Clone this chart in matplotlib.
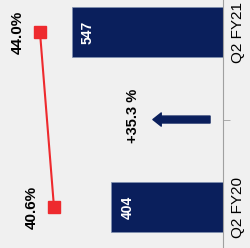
import matplotlib.pyplot as plt
import numpy as np

periods = ["Q2 FY20", "Q2 FY21"]
revenue = [404, 547]
margin = [40.6, 44.0]
growth_label = "+35.3 %"

navy = "#0a1f5c"
red = "#ee2a2e"
bg = "#f0f0f0"

plt.rcParams['font.family'] = ['Liberation Sans', 'DejaVu Sans']

fig = plt.figure(figsize=(2.51, 2.48), dpi=100, facecolor=bg)
ax = fig.add_axes([0, 0, 223 / 251, 1])
ax.set_facecolor(bg)

pos = np.arange(len(periods))
ax.barh(pos, revenue, height=0.286, color=navy, edgecolor="#8090b0", linewidth=0.5)
ax.set_xlim(808, 0)
ax.set_ylim(-0.234, 1.183)

for p, v in zip(pos, revenue):
    ax.text(v - 58, p, str(v), color="white", fontsize=10, fontweight="bold",
            rotation=90, ha="center", va="center")

# growth arrow
ax.annotate("", xy=(254, 0.5), xytext=(47, 0.5),
            arrowprops=dict(arrowstyle="simple,head_length=0.6,head_width=0.95,tail_width=0.5",
                            color=navy, shrinkA=0, shrinkB=0))
ax.text(326, 0.52, growth_label, fontsize=10.5, fontweight="bold", rotation=90,
        ha="center", va="center")

for s in ["left", "top", "bottom"]:
    ax.spines[s].set_visible(False)
ax.spines["right"].set_color("#a0a0a0")
ax.set_xticks([])
ax.yaxis.tick_right()
ax.set_yticks(pos)
ax.set_yticklabels(periods, rotation=90, va="center", fontsize=11)
ax.tick_params(axis="y", which="major", length=0, pad=6)
ax.set_yticks([0.5], minor=True)
ax.tick_params(axis="y", which="minor", length=5, color="#a0a0a0", direction="out")

# margin line on its own scale
ax2 = ax.twiny()
ax2.set_xlim(53.7, -0.42)
ax2.plot(margin, pos, color=red, linewidth=1.5, marker="s", markersize=8)
ax2.axis("off")
for p, m in zip(pos, margin):
    ax2.text(m + 5.3, p, f"{m:.1f}%", fontsize=11, fontweight="bold", rotation=90,
             ha="center", va="center")

fig.savefig("out.png", dpi=100, facecolor=bg)
